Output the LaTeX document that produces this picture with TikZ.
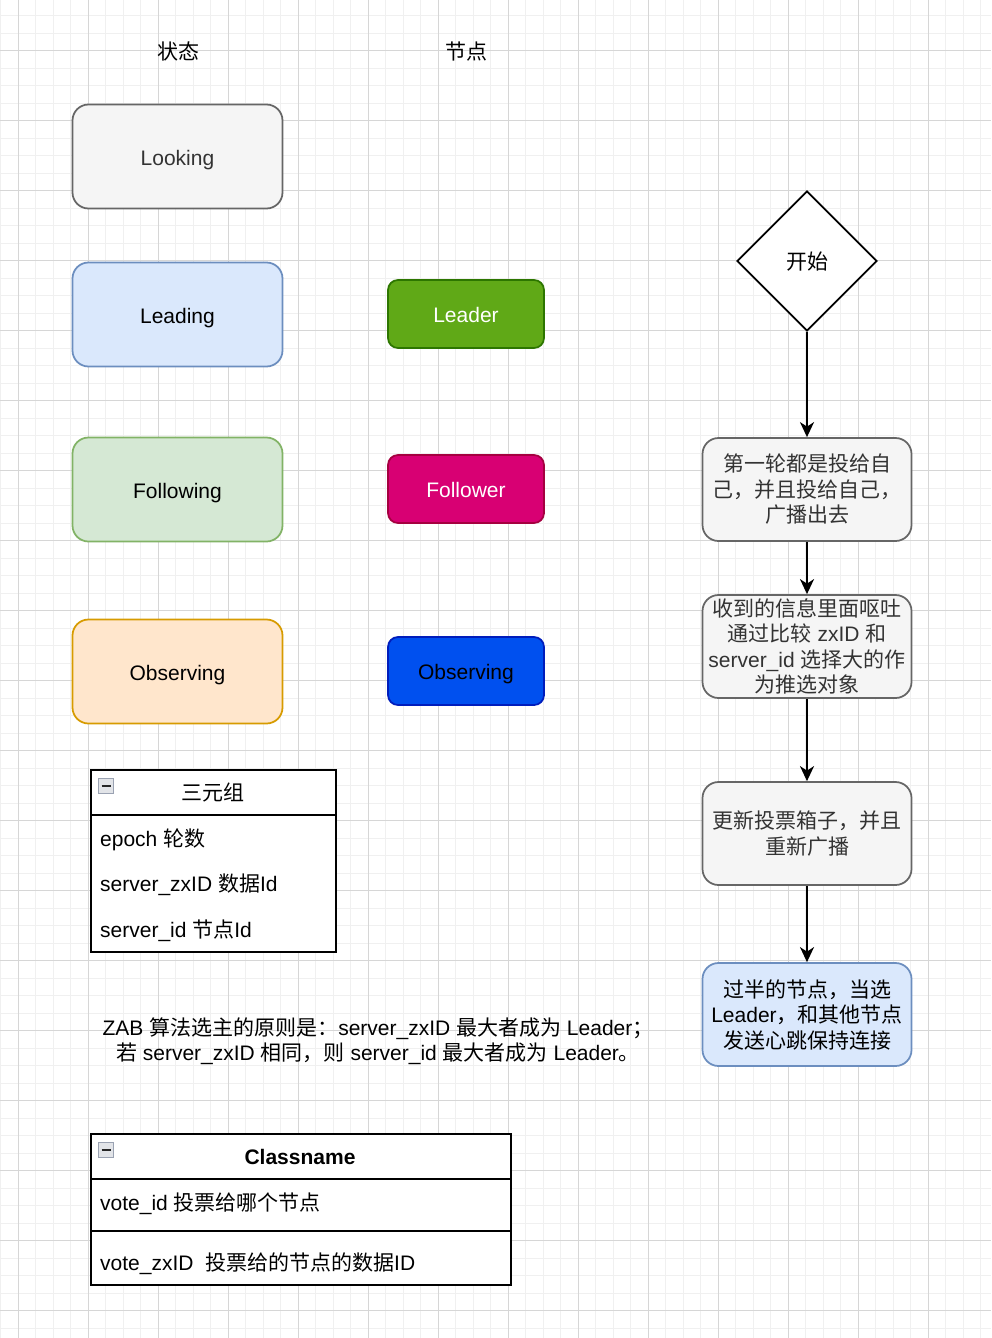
\documentclass[tikz,border=0pt]{standalone}
\usepackage{fontspec}
\setmainfont{Liberation Sans}
\newfontfamily\zh{Noto Sans CJK SC}
\usetikzlibrary{arrows.meta,shapes.geometric}
\definecolor{gminor}{HTML}{F0F0F0}
\definecolor{gmajor}{HTML}{D6D6D6}
\definecolor{grayfill}{HTML}{F5F5F5}
\definecolor{graystroke}{HTML}{666666}
\definecolor{graytext}{HTML}{333333}
\definecolor{bluefill}{HTML}{DAE8FC}
\definecolor{bluestroke}{HTML}{6C8EBF}
\definecolor{greenfill}{HTML}{D5E8D4}
\definecolor{greenstroke}{HTML}{82B366}
\definecolor{orangefill}{HTML}{FFE6CC}
\definecolor{orangestroke}{HTML}{D79B00}
\definecolor{leaderfill}{HTML}{60A917}
\definecolor{leaderstroke}{HTML}{2D7600}
\definecolor{followerfill}{HTML}{D80073}
\definecolor{followerstroke}{HTML}{A50040}
\definecolor{obsfill}{HTML}{0050EF}
\definecolor{obsstroke}{HTML}{001DBC}
\definecolor{iconborder}{HTML}{9AA2B2}
\definecolor{iconfill}{HTML}{E2E4E8}
\tikzset{
  txt/.style={inner sep=0pt, font=\fontsize{21}{25.5}\selectfont, align=center},
  oneline/.style={text height=17.5pt, text depth=0.5pt},
  bigbox/.style={txt, draw, line width=1.75pt, rounded corners=16pt, minimum width=209pt, minimum height=103pt},
  smallbox/.style={txt, oneline, draw, line width=1.75pt, rounded corners=10pt, minimum width=156pt, minimum height=68pt},
  graybox/.style={fill=grayfill, draw=graystroke, text=graytext},
  bluebox/.style={fill=bluefill, draw=bluestroke, text=black},
  greenbox/.style={fill=greenfill, draw=greenstroke, text=black},
  orangebox/.style={fill=orangefill, draw=orangestroke, text=black},
  arr/.style={line width=1.9pt, -{Stealth[length=15pt,width=14pt,inset=4.5pt]}},
  tablebox/.style={draw=black, fill=white, line width=1.75pt, inner sep=0pt},
  rowtxt/.style={inner sep=0pt, oneline, font=\fontsize{21}{25.5}\selectfont, anchor=west},
  minusicon/.style={draw=iconborder, fill=iconfill, line width=1.2pt, minimum width=15pt, minimum height=15pt, inner sep=0pt}
}
\begin{document}
\begin{tikzpicture}[x=1pt,y=-1pt]
\useasboundingbox (0,0) rectangle (991,1338);
\fill[white] (0,0) rectangle (991,1338);
% grid
\foreach \i in {0,...,56} \draw[gminor, line width=1pt] ({0.5+17.5*\i},0) -- ({0.5+17.5*\i},1338);
\foreach \i in {1,...,76} \draw[gminor, line width=1pt] (0,{-1.8+17.5*\i}) -- (991,{-1.8+17.5*\i});
\foreach \i in {0,...,13} \draw[gmajor, line width=1pt] ({18+70*\i},0) -- ({18+70*\i},1338);
\foreach \i in {0,...,18} \draw[gmajor, line width=1pt] (0,{50.7+70*\i}) -- (991,{50.7+70*\i});

% headers
\node[txt, oneline] (hstate) at (178,51) {\zh 状态};
\node[txt, oneline] (hnode) at (466,51) {\zh 节点};

% states
\node[bigbox, oneline, graybox, minimum width=210pt, minimum height=104pt] (looking) at (177.5,156.5) {Looking};
\node[bigbox, oneline, bluebox, minimum width=210pt, minimum height=104pt] (leading) at (177.5,314.5) {Leading};
\node[bigbox, oneline, greenbox, minimum width=210pt, minimum height=104pt] (following) at (177.5,489.5) {Following};
\node[bigbox, oneline, orangebox, minimum width=210pt, minimum height=104pt] (observingL) at (177.5,671.5) {Observing};

% node roles
\node[smallbox, fill=leaderfill, draw=leaderstroke, text=white] (leader) at (466,314) {Leader};
\node[smallbox, fill=followerfill, draw=followerstroke, text=white] (follower) at (466,489) {Follower};
\node[smallbox, fill=obsfill, draw=obsstroke, text=black] (observingM) at (466,671) {Observing};

% flow
\node[txt, oneline, draw=black, fill=white, line width=1.75pt, diamond, aspect=1, minimum width=140pt, minimum height=140pt] (start) at (807,261) {\zh 开始};
\node[bigbox, graybox] (b1) at (807,489.5) {\zh 第一轮都是投给自\\\zh 己，并且投给自己，\\\zh 广播出去};
\node[bigbox, graybox] (b2) at (807,646.5) {\zh 收到的信息里面呕吐\\{\zh 通过比较} zxID {\zh 和}\\server\_id {\zh 选择大的作}\\\zh 为推选对象};
\node[bigbox, graybox] (b3) at (807,833.5) {\zh 更新投票箱子，并且\\\zh 重新广播};
\node[bigbox, bluebox] (b4) at (807,1014.5) {\zh 过半的节点，当选\\Leader{\zh ，和其他节点}\\\zh 发送心跳保持连接};

\draw[arr] (start.south) -- (b1.north);
\draw[arr] (b1.south) -- (b2.north);
\draw[arr] (b2.south) -- (b3.north);
\draw[arr] (b3.south) -- (b4.north);

% table 1
\node[tablebox, anchor=north west, minimum width=245pt, minimum height=182pt] (t1) at (90,769) {};
\draw[line width=1.75pt] (90,815) -- (335,815);
\node[minusicon] (m1) at (106,786) {};
\draw[line width=2.5pt, black!85] ([xshift=-4.5pt]m1.center) -- ([xshift=4.5pt]m1.center);
\node[txt, oneline] (t1h) at (212.5,792) {\zh 三元组};
\node[rowtxt] (t1r1) at (100,838) {epoch {\zh 轮数}};
\node[rowtxt] (t1r2) at (100,883) {server\_zxID {\zh 数据}Id};
\node[rowtxt] (t1r3) at (100,929) {server\_id {\zh 节点}Id};

% paragraph
\node[txt] (para) at (378,1041) {ZAB {\zh 算法选主的原则是：}server\_zxID {\zh 最大者成为} Leader{\zh ；}\\{\zh 若} server\_zxID {\zh 相同，则} server\_id {\zh 最大者成为} Leader{\zh 。}};

% table 2
\node[tablebox, anchor=north west, minimum width=420pt, minimum height=151pt] (t2) at (90,1133) {};
\draw[line width=1.75pt] (90,1179) -- (510,1179);
\draw[line width=1.75pt] (90,1231) -- (510,1231);
\node[minusicon] (m2) at (106,1150) {};
\draw[line width=2.5pt, black!85] ([xshift=-4.5pt]m2.center) -- ([xshift=4.5pt]m2.center);
\node[txt, oneline, font=\fontsize{21}{25.5}\selectfont\bfseries] (t2h) at (300,1156) {Classname};
\node[rowtxt] (t2r1) at (100,1202) {vote\_id {\zh 投票给哪个节点}};
\node[rowtxt] (t2r2) at (100,1262) {vote\_zxID\ \ {\zh 投票给的节点的数据}ID};
\end{tikzpicture}
\end{document}
